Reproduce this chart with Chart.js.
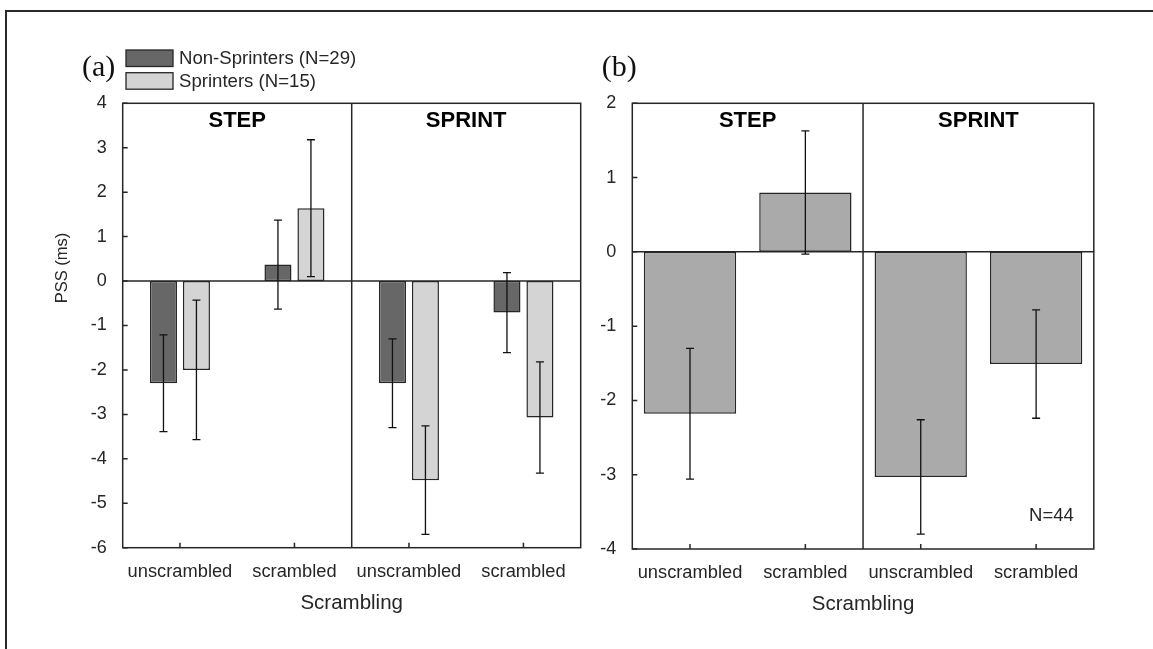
<!DOCTYPE html>
<html>
<head>
<meta charset="utf-8">
<script src="https://cdn.jsdelivr.net/npm/chart.js@4.4.1/dist/chart.umd.min.js"></script>
<style>
  html, body { margin: 0; padding: 0; background: #fff; }
  body { width: 1153px; height: 649px; position: relative; overflow: hidden; }
  #frame { position: absolute; left: 5px; top: 10px; right: -10px; bottom: -10px;
           border-left: 2px solid #2a2a2a; border-top: 2px solid #2a2a2a; }
  #chartA { position: absolute; left: 0; top: 0; }
  #chartB { position: absolute; left: 595px; top: 0; }
</style>
</head>
<body>
<div id="frame"></div>
<canvas id="chartA" width="595" height="649"></canvas>
<canvas id="chartB" width="558" height="649"></canvas>
<script>
// ---- data ----
const groups = ['STEP', 'SPRINT'];
const conditions = ['unscrambled', 'scrambled', 'unscrambled', 'scrambled'];

const nonSprinters = [-2.30, 0.37, -2.30, -0.71];
const nonSprintersErr = [1.09, 1.00, 1.00, 0.90];
const sprinters = [-2.00, 1.64, -4.48, -3.07];
const sprintersErr = [1.57, 1.54, 1.22, 1.25];

const allRunners = [-2.18, 0.80, -3.03, -1.51];
const allRunnersErr = [0.88, 0.83, 0.77, 0.73];

const yRangeA = [-6, 4];
const yRangeB = [-4, 2];

Chart.defaults.font.family = "'Liberation Sans', Arial, sans-serif";
Chart.defaults.color = '#262626';

const ink = '#262626';

// error bars, zero line, group divider, box, inward ticks, labels
const panelDecor = {
  id: 'panelDecor',
  afterDatasetsDraw(chart, args, opts) {
    const { ctx, chartArea: a, scales: { x, y } } = chart;
    ctx.save();

    // zero line
    const y0 = y.getPixelForValue(0);
    ctx.strokeStyle = ink;
    ctx.lineWidth = 1.5;
    ctx.beginPath();
    ctx.moveTo(a.left, y0);
    ctx.lineTo(a.right, y0);
    ctx.stroke();

    // error bars
    ctx.strokeStyle = '#111';
    ctx.lineWidth = 1.3;
    chart.data.datasets.forEach((ds, i) => {
      chart.getDatasetMeta(i).data.forEach((bar, j) => {
        const v = ds.data[j], e = ds.errors[j];
        const yt = y.getPixelForValue(v + e), yb = y.getPixelForValue(v - e);
        ctx.beginPath();
        ctx.moveTo(bar.x, yt); ctx.lineTo(bar.x, yb);
        ctx.moveTo(bar.x - 4, yt); ctx.lineTo(bar.x + 4, yt);
        ctx.moveTo(bar.x - 4, yb); ctx.lineTo(bar.x + 4, yb);
        ctx.stroke();
      });
    });

    // divider between STEP and SPRINT
    const xm = (x.getPixelForValue(1) + x.getPixelForValue(2)) / 2;
    ctx.strokeStyle = ink;
    ctx.lineWidth = 1.5;
    ctx.beginPath();
    ctx.moveTo(xm, a.top); ctx.lineTo(xm, a.bottom);
    ctx.stroke();

    // axes box
    ctx.strokeRect(a.left, a.top, a.right - a.left, a.bottom - a.top);

    // inward tick marks
    ctx.beginPath();
    x.ticks.forEach((t, i) => {
      const px = x.getPixelForTick(i);
      ctx.moveTo(px, a.bottom); ctx.lineTo(px, a.bottom - 5);
    });
    y.ticks.forEach((t, i) => {
      const py = y.getPixelForTick(i);
      ctx.moveTo(a.left, py); ctx.lineTo(a.left + 5, py);
    });
    ctx.stroke();

    // group titles
    ctx.fillStyle = '#000';
    ctx.font = "bold 22px 'Liberation Sans', Arial, sans-serif";
    ctx.textAlign = 'center';
    ctx.textBaseline = 'middle';
    ctx.fillText(groups[0], (a.left + xm) / 2, a.top + 18);
    ctx.fillText(groups[1], (xm + a.right) / 2, a.top + 18);

    // panel letter
    ctx.font = "30px 'Liberation Serif', 'Times New Roman', serif";
    ctx.textAlign = 'left';
    ctx.fillStyle = '#111';
    ctx.fillText(opts.letter, opts.letterX, 68);

    // y axis title
    if (opts.yTitle) {
      ctx.save();
      ctx.translate(62, 268);
      ctx.rotate(-Math.PI / 2);
      ctx.font = "16.5px 'Liberation Sans', Arial, sans-serif";
      ctx.fillStyle = ink;
      ctx.textAlign = 'center';
      ctx.fillText(opts.yTitle, 0, 0);
      ctx.restore();
    }

    // legend
    if (opts.legend) {
      ctx.font = "18.6px 'Liberation Sans', Arial, sans-serif";
      ctx.textAlign = 'left';
      chart.data.datasets.forEach((ds, i) => {
        const by = 50 + i * 22.7;
        ctx.fillStyle = ds.backgroundColor;
        ctx.fillRect(126, by, 47, 16.5);
        ctx.strokeStyle = ink;
        ctx.lineWidth = 1.3;
        ctx.strokeRect(126, by, 47, 16.5);
        ctx.fillStyle = ink;
        ctx.fillText(ds.label, 179, by + 9);
      });
    }

    // note
    if (opts.note) {
      ctx.font = "18.5px 'Liberation Sans', Arial, sans-serif";
      ctx.fillStyle = ink;
      ctx.textAlign = 'right';
      ctx.fillText(opts.note, a.right - 20, y.getPixelForValue(-3.56));
    }
    ctx.restore();
  }
};

function makeOptions(range, yWidth, pad, decor) {
  return {
    responsive: false,
    animation: false,
    layout: { padding: pad },
    plugins: { legend: { display: false }, tooltip: { enabled: false }, panelDecor: decor },
    scales: {
      x: {
        grid: { display: false },
        border: { display: false },
        ticks: { font: { size: 18.3 }, padding: 5, color: ink, maxRotation: 0, autoSkip: false },
        title: { display: true, text: 'Scrambling', font: { size: 20.5 }, color: ink, padding: { top: 0, bottom: 12 } },
        afterFit: s => { s.height = 80; }
      },
      y: {
        min: range[0], max: range[1],
        grid: { display: false },
        border: { display: false },
        ticks: { stepSize: 1, font: { size: 18 }, padding: 8, color: ink },
        afterFit: s => { s.width = yWidth; }
      }
    }
  };
}

new Chart(document.getElementById('chartA'), {
  type: 'bar',
  data: {
    labels: conditions,
    datasets: [
      { label: 'Non-Sprinters (N=29)', data: nonSprinters, errors: nonSprintersErr,
        backgroundColor: '#676767', borderColor: ink, borderWidth: 1.5, borderSkipped: false,
        categoryPercentage: 0.576, barPercentage: 0.82 },
      { label: 'Sprinters (N=15)', data: sprinters, errors: sprintersErr,
        backgroundColor: '#d4d4d4', borderColor: ink, borderWidth: 1.5, borderSkipped: false,
        categoryPercentage: 0.576, barPercentage: 0.82 }
    ]
  },
  options: makeOptions(yRangeA, 122.7, { left: 0, top: 103.3, right: 14.3, bottom: 21.3 },
    { letter: '(a)', letterX: 82, legend: true, yTitle: 'PSS (ms)' }),
  plugins: [panelDecor]
});

new Chart(document.getElementById('chartB'), {
  type: 'bar',
  data: {
    labels: conditions,
    datasets: [
      { label: 'All (N=44)', data: allRunners, errors: allRunnersErr,
        backgroundColor: '#aaaaaa', borderColor: ink, borderWidth: 1.5, borderSkipped: false,
        categoryPercentage: 1.0, barPercentage: 0.8 }
    ]
  },
  options: makeOptions(yRangeB, 37.3, { left: 0, top: 103.3, right: 59.2, bottom: 20 },
    { letter: '(b)', letterX: 6.7, legend: false, note: 'N=44' }),
  plugins: [panelDecor]
});
</script>
</body>
</html>
